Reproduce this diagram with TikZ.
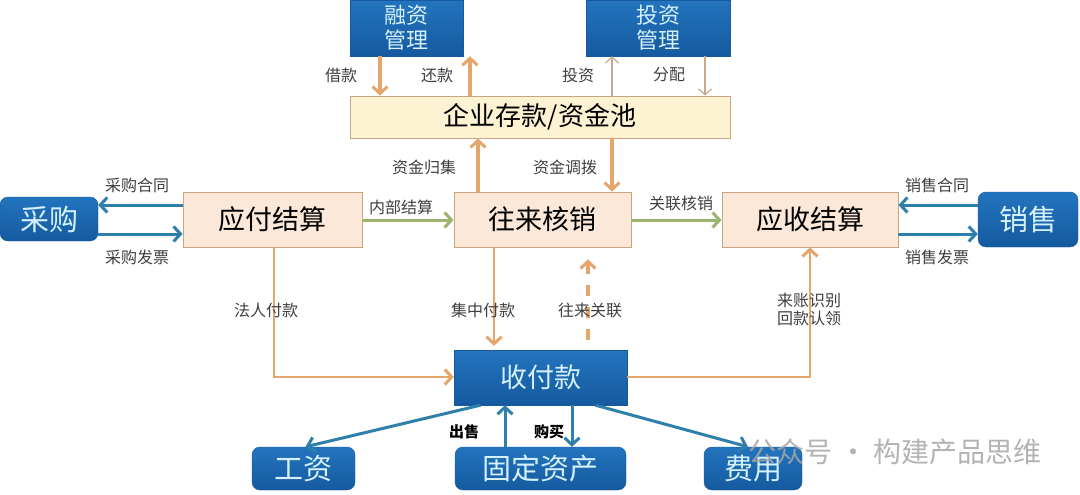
\documentclass[tikz,border=0pt]{standalone}
\usepackage{fontspec}
\setmainfont{Noto Sans CJK SC}
\usetikzlibrary{arrows.meta}
\definecolor{bboxA}{HTML}{2374BE}
\definecolor{bboxB}{HTML}{155A9F}
\definecolor{btext}{HTML}{D4F1FB}
\definecolor{peach}{HTML}{FBE8D8}
\definecolor{peachd}{HTML}{C9A582}
\definecolor{pool}{HTML}{FDF3D3}
\definecolor{org}{HTML}{E5A66B}
\definecolor{grn}{HTML}{9DB46C}
\definecolor{tealc}{HTML}{2E7FAA}
\definecolor{thinc}{HTML}{CCA88C}
\definecolor{lbl}{HTML}{404040}
\tikzset{
  bluesq/.style={top color=bboxA, bottom color=bboxB, draw=bboxB, text=btext, inner sep=0pt, align=center},
  blueround/.style={bluesq, rounded corners=8pt},
  peachbox/.style={fill=peach, draw=peachd, line width=0.8pt, inner sep=0pt, text=black},
  tip/.style={-{Straight Barb[length=7pt,width=15pt,line width=3pt]}},
  thintip/.style={-{Straight Barb[length=6pt,width=13pt,line width=1.2pt]}},
  oa/.style={draw=org, line width=3.2pt, tip},
  ga/.style={draw=grn, line width=3pt, tip},
  ta/.style={draw=tealc, line width=3pt, tip},
  tha/.style={draw=thinc, line width=1.2pt, thintip},
  lab/.style={text=lbl, font=\fontsize{16}{18}\selectfont, inner sep=1pt},
  big/.style={font=\fontsize{27}{30}\selectfont},
}
\begin{document}
\begin{tikzpicture}[x=1pt,y=-1pt]
\useasboundingbox (0,0) rectangle (1080,495);
\fill[white] (0,0) rectangle (1080,495);
% nodes
\node[bluesq, minimum width=113pt, minimum height=56pt, font=\fontsize{22}{25}\selectfont] (rz) at (406.5,28) {融资\\管理};
\node[bluesq, minimum width=144pt, minimum height=56pt, font=\fontsize{22}{25}\selectfont] (tz) at (658,28) {投资\\管理};
\node[fill=pool, draw=peachd, line width=0.8pt, minimum width=380pt, minimum height=42pt, inner sep=0pt, font=\fontsize{26}{28}\selectfont] (pool) at (540,117) {企业存款/资金池};
\node[peachbox, minimum width=179pt, minimum height=55pt, big] (yf) at (272.5,219.5) {应付结算};
\node[peachbox, minimum width=177pt, minimum height=55pt, big] (wl) at (542.5,219.5) {往来核销};
\node[peachbox, minimum width=176pt, minimum height=55pt, big] (ys) at (810,219.5) {应收结算};
\node[blueround, minimum width=98pt, minimum height=44pt, font=\fontsize{29}{31}\selectfont] (cg) at (49,219) {采购};
\node[blueround, minimum width=100pt, minimum height=55pt, font=\fontsize{29}{31}\selectfont] (xs) at (1028,219.5) {销售};
\node[bluesq, minimum width=173pt, minimum height=55pt, big] (sfk) at (540.5,377.5) {收付款};
\node[blueround, minimum width=103pt, minimum height=43pt, font=\fontsize{29}{31}\selectfont] (gz) at (303.5,468.5) {工资};
\node[blueround, minimum width=171pt, minimum height=43pt, font=\fontsize{29}{31}\selectfont] (gd) at (540.5,468.5) {固定资产};
\node[blueround, minimum width=98pt, minimum height=43pt, font=\fontsize{29}{31}\selectfont] (fy) at (753,468.5) {费用};
% helper coordinates
\coordinate (x380) at (380,0);
\coordinate (x470) at (470,0);
\coordinate (x612) at (612,0);
\coordinate (x705) at (705,0);
\coordinate (x478) at (478,0);
\coordinate (x494) at (494,0);
\coordinate (x588) at (588,0);
\coordinate (x274) at (274,0);
\coordinate (x810) at (810,0);
\coordinate (x505) at (505,0);
\coordinate (x572) at (572,0);
\coordinate (y205) at (0,205);
\coordinate (y234) at (0,234);
\coordinate (y220) at (0,220);
\coordinate (y377) at (0,377);
% top arrows
\draw[oa] (rz.south -| x380) -- (pool.north -| x380);
\draw[oa] (pool.north -| x470) -- (rz.south -| x470);
\draw[tha] (pool.north -| x612) -- (tz.south -| x612);
\draw[tha] (tz.south -| x705) -- (pool.north -| x705);
\node[lab] (l1) at (341,75) {借款};
\node[lab] (l2) at (437,75) {还款};
\node[lab] (l3) at (578,75) {投资};
\node[lab] (l4) at (669,75) {分配};
% pool <-> wl
\draw[oa] (wl.north -| x478) -- (pool.south -| x478);
\draw[oa] (pool.south -| x612) -- (wl.north -| x612);
\node[lab] (l5) at (424,167) {资金归集};
\node[lab] (l6) at (565,167) {资金调拨};
% left / right
\draw[ta] (yf.west |- y205) -- (cg.east |- y205);
\draw[ta] (cg.east |- y234) -- (yf.west |- y234);
\node[lab] (l7) at (137,185) {采购合同};
\node[lab] (l8) at (137,257) {采购发票};
\draw[ta] (xs.west |- y205) -- (ys.east |- y205);
\draw[ta] (ys.east |- y234) -- (xs.west |- y234);
\node[lab] (l9) at (937,185) {销售合同};
\node[lab] (l10) at (937,257) {销售发票};
\draw[ga] (yf.east |- y220) -- (wl.west |- y220);
\draw[ga] (wl.east |- y220) -- (ys.west |- y220);
\node[lab] (l11) at (401,207) {内部结算};
\node[lab] (l12) at (681,203) {关联核销};
% middle
\draw[oa, line width=2.6pt] (wl.south -| x494) -- ([yshift=4pt]sfk.north -| x494);
\draw[oa, dash pattern=on 11pt off 11pt] ([yshift=10pt]sfk.north -| x588) -- ([yshift=-12pt]wl.south -| x588);
\node[lab] (l13) at (483,310) {集中付款};
\node[lab] (l14) at (590,310) {往来关联};
\draw[oa, line width=2.6pt] (yf.south -| x274) -- (x274 |- y377) -- (sfk.west |- y377);
\node[lab] (l15) at (266,310) {法人付款};
\draw[oa, line width=2.6pt] (sfk.east |- y377) -- (x810 |- y377) -- (ys.south -| x810);
\node[lab, align=center] (l16) at (809,309) {来账识别\\回款认领};
% bottom
\draw[ta] ([xshift=-60pt]sfk.south) -- ([xshift=2pt]gz.north);
\draw[ta] (gd.north -| x505) -- (sfk.south -| x505);
\draw[ta] (sfk.south -| x572) -- (gd.north -| x572);
\draw[ta] ([xshift=55pt]sfk.south) -- ([xshift=-5pt]fy.north);
\node[inner sep=1pt, font=\fontsize{15}{17}\selectfont\bfseries] (l17) at (464,432) {出售};
\node[inner sep=1pt, font=\fontsize{15}{17}\selectfont\bfseries] (l18) at (549,432) {购买};
% watermark
\node[text=black!35, opacity=0.85, font=\fontsize{28}{30}\selectfont, inner sep=0pt] (wm) at (895,452) {公众号 · 构建产品思维};
\end{tikzpicture}
\end{document}
